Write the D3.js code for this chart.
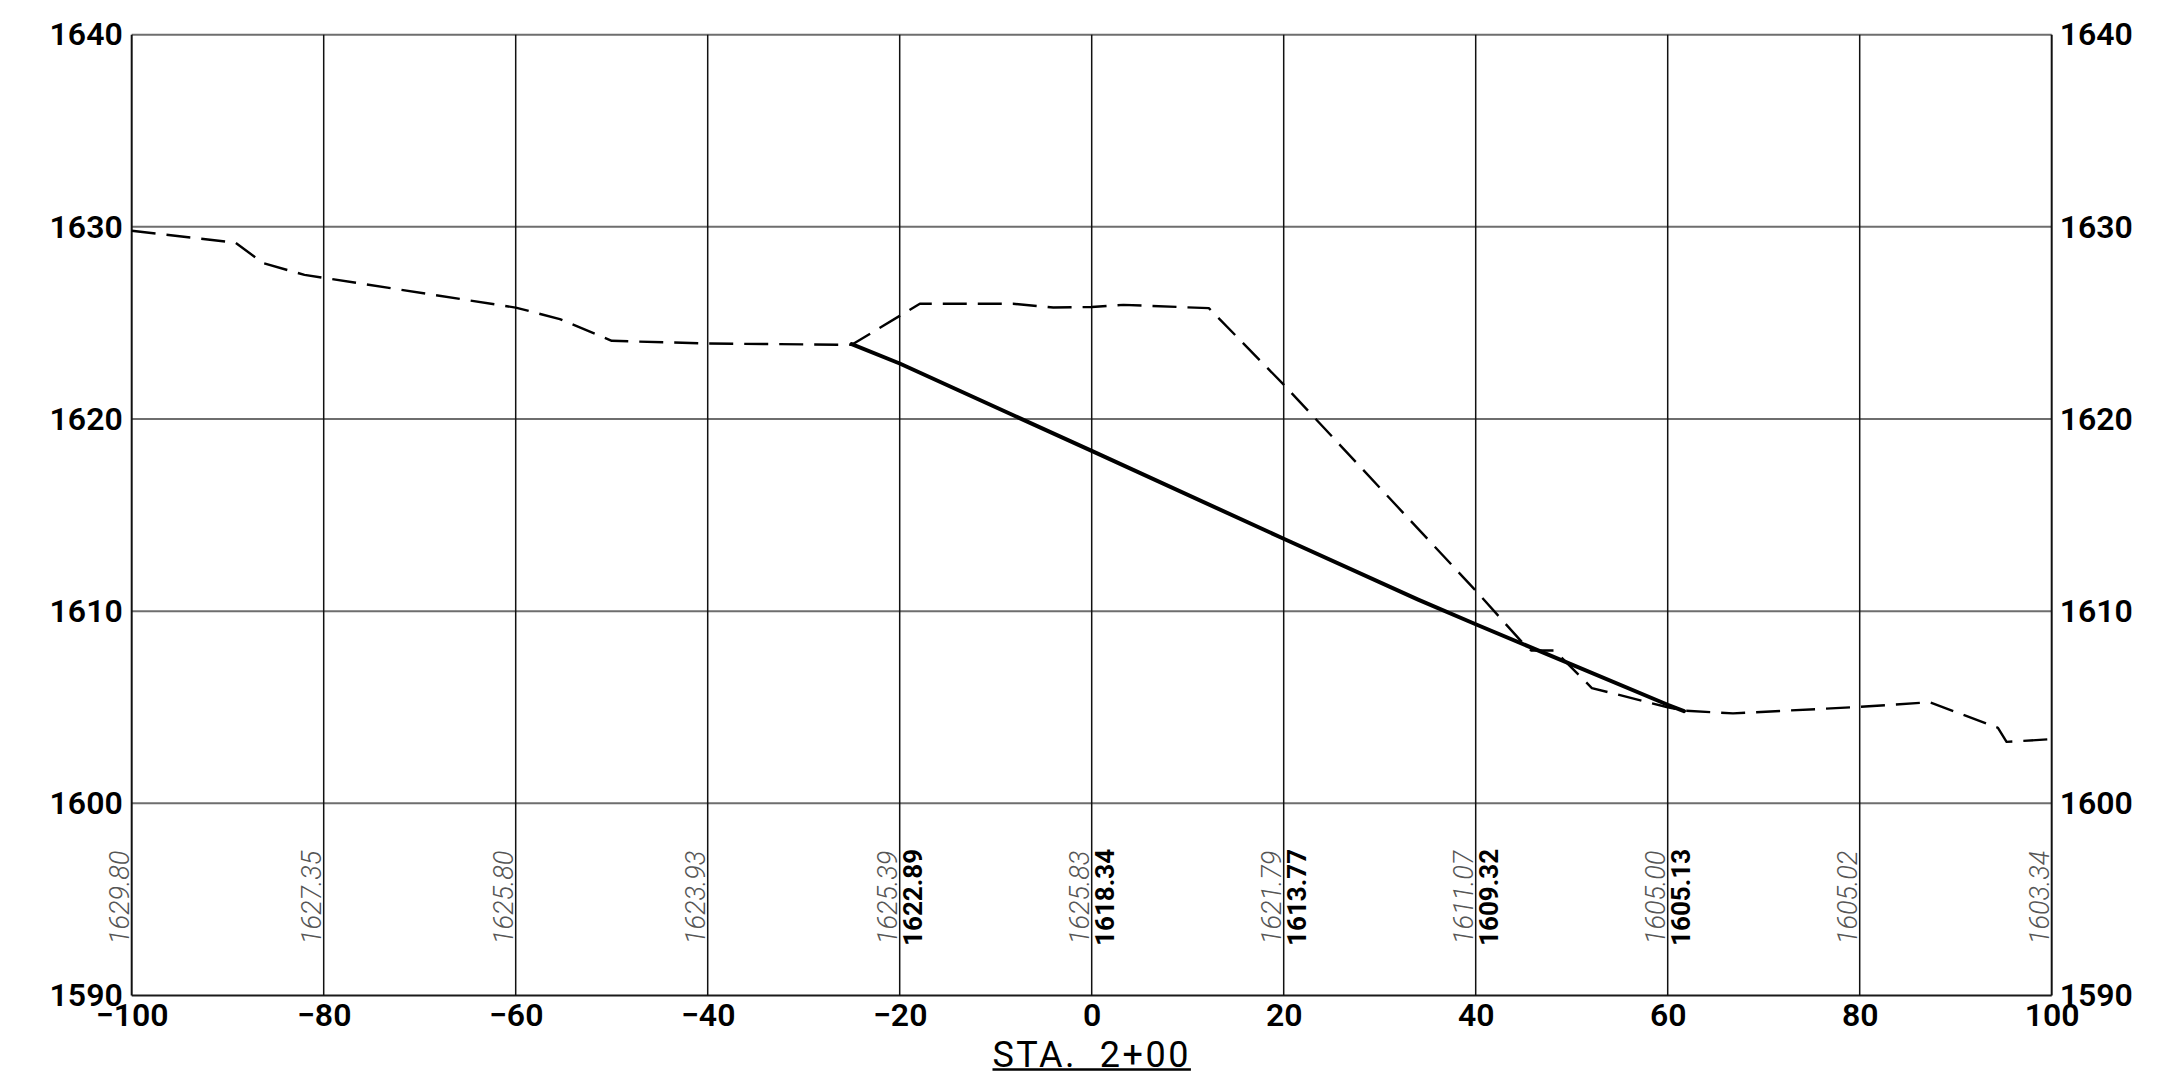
<!DOCTYPE html>
<html>
<head>
<meta charset="utf-8">
<script src="https://cdn.jsdelivr.net/npm/d3@7"></script>
<style>
  html, body { margin: 0; padding: 0; background: #ffffff; }
  svg { display: block; }
</style>
</head>
<body>
<svg id="chart" width="2160" height="1086"></svg>
<script>
// ---------- data ----------
const title = "STA.  2+00";
const xDomain = [-100, 100];
const yDomain = [1590, 1640];
const xTicks = [-100, -80, -60, -40, -20, 0, 20, 40, 60, 80, 100];
const xTickLabels = ["\u2212100", "\u221280", "\u221260", "\u221240", "\u221220", "0", "20", "40", "60", "80", "100"];
const yTicks = [1590, 1600, 1610, 1620, 1630, 1640];
const yTickLabels = ["1590", "1600", "1610", "1620", "1630", "1640"];

// existing ground elevations labelled at each station (grey italic)
const existingStations = [-100, -80, -60, -40, -20, 0, 20, 40, 60, 80, 100];
const existingLabels = ["1629.80", "1627.35", "1625.80", "1623.93", "1625.39", "1625.83", "1621.79", "1611.07", "1605.00", "1605.02", "1603.34"];

// proposed grade elevations (black bold)
const proposedStations = [-20, 0, 20, 40, 60];
const proposedLabels = ["1622.89", "1618.34", "1613.77", "1609.32", "1605.13"];

// existing ground profile (dashed)
const groundX = [-100, -89.2, -86.3, -82, -80, -60, -55.4, -50, -40, -25, -17.9, -8.2, -4, 0, 3.3, 12.2, 20, 40, 44.8, 45.8, 48.2, 52.1, 60, 61.6, 66.8, 80, 87.3, 94.4, 95.3, 100];
const groundY = [1629.80, 1629.18, 1628.11, 1627.5, 1627.35, 1625.80, 1625.2, 1624.07, 1623.93, 1623.86, 1626.0, 1626.0, 1625.8, 1625.83, 1625.94, 1625.77, 1621.79, 1611.07, 1608.4, 1607.95, 1607.95, 1606.0, 1605.00, 1604.83, 1604.68, 1605.02, 1605.26, 1603.93, 1603.2, 1603.34];

// proposed profile (solid)
const proposedX = [-25, -20, 0, 20, 34, 40, 60, 61.7];
const proposedY = [1623.9, 1622.89, 1618.34, 1613.77, 1610.6, 1609.32, 1605.13, 1604.8];

// ---------- layout ----------
const svg = d3.select("#chart");
const pLeft = 131.7, pRight = 2051.7, pTop = 34.7, pBottom = 995.5;
const x = d3.scaleLinear().domain(xDomain).range([pLeft, pRight]);
const y = d3.scaleLinear().domain(yDomain).range([pBottom, pTop]);
const FONT = "Roboto, 'DejaVu Sans', sans-serif";

// grid: horizontal (grey)
svg.append("g").selectAll("line").data(yTicks).join("line")
  .attr("x1", pLeft).attr("x2", pRight)
  .attr("y1", d => y(d)).attr("y2", d => y(d))
  .attr("stroke", d => d === yDomain[0] ? "#1a1a1a" : "#6e6e6e")
  .attr("stroke-width", 2);

// grid: vertical (black)
svg.append("g").selectAll("line").data(xTicks).join("line")
  .attr("x1", d => x(d)).attr("x2", d => x(d))
  .attr("y1", pTop).attr("y2", pBottom)
  .attr("stroke", "#111")
  .attr("stroke-width", d => (d === xDomain[0] || d === xDomain[1]) ? 2 : 1.5);

// axes (labels only)
const axisLeft = d3.axisLeft(y).tickValues(yTicks).tickSize(0).tickPadding(9)
  .tickFormat((d, i) => yTickLabels[i]);
const axisRight = d3.axisRight(y).tickValues(yTicks).tickSize(0).tickPadding(8)
  .tickFormat((d, i) => yTickLabels[i]);
const axisBottom = d3.axisBottom(x).tickValues(xTicks).tickSize(0).tickPadding(7.5)
  .tickFormat((d, i) => xTickLabels[i]);

function styleAxis(g) {
  g.select(".domain").remove();
  g.selectAll("text")
    .attr("font-family", FONT)
    .attr("font-size", 32)
    .attr("font-weight", 600)
    .attr("fill", "#000");
}
svg.append("g").attr("transform", `translate(${pLeft},0)`).call(axisLeft).call(styleAxis);
svg.append("g").attr("transform", `translate(${pRight},0)`).call(axisRight).call(styleAxis);
svg.append("g").attr("transform", `translate(0,${pBottom})`).call(axisBottom).call(styleAxis);

// profiles
const line = d3.line().x(d => x(d[0])).y(d => y(d[1]));
svg.append("path")
  .datum(groundX.map((v, i) => [v, groundY[i]]))
  .attr("d", line)
  .attr("fill", "none")
  .attr("stroke", "#000")
  .attr("stroke-width", 2.4)
  .attr("stroke-dasharray", "24 11")
  .attr("stroke-linejoin", "round");

svg.append("path")
  .datum(proposedX.map((v, i) => [v, proposedY[i]]))
  .attr("d", line)
  .attr("fill", "none")
  .attr("stroke", "#000")
  .attr("stroke-width", 4)
  .attr("stroke-linejoin", "round")
  .attr("stroke-linecap", "round");

// station elevation labels
const labelY = y(1595) - 2;
svg.append("g").selectAll("text").data(existingStations).join("text")
  .attr("transform", d => `translate(${x(d) - 3},${labelY}) rotate(-90)`)
  .attr("text-anchor", "middle")
  .attr("font-family", FONT)
  .attr("font-size", 27)
  .attr("font-weight", 300)
  .attr("font-style", "italic")
  .attr("fill", "#555555")
  .text((d, i) => existingLabels[i]);

svg.append("g").selectAll("text").data(proposedStations).join("text")
  .attr("transform", d => `translate(${x(d) + 22.5},${labelY}) rotate(-90)`)
  .attr("text-anchor", "middle")
  .attr("font-family", FONT)
  .attr("font-size", 26)
  .attr("font-weight", 700)
  .attr("fill", "#000")
  .text((d, i) => proposedLabels[i]);

// title with underline
const t = svg.append("text")
  .attr("x", x(0)).attr("y", 1067)
  .attr("text-anchor", "middle")
  .attr("font-family", FONT)
  .attr("font-size", 36)
  .attr("letter-spacing", 2.5)
  .attr("fill", "#000")
  .style("white-space", "pre")
  .text(title);
const bb = t.node().getBBox();
svg.append("line")
  .attr("x1", bb.x).attr("x2", bb.x + bb.width)
  .attr("y1", 1069.5).attr("y2", 1069.5)
  .attr("stroke", "#000").attr("stroke-width", 2.5);
</script>
</body>
</html>
